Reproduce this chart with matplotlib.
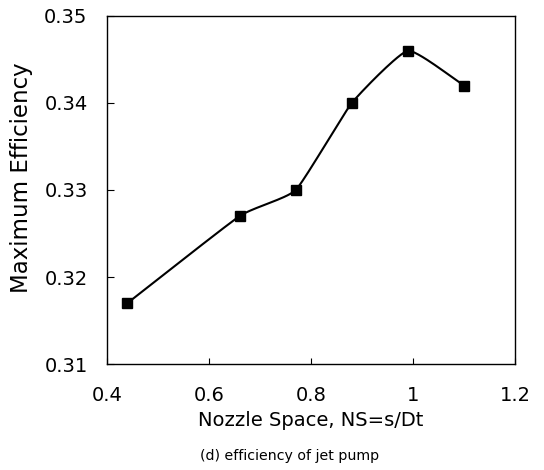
import numpy as np
import matplotlib
matplotlib.use("Agg")
import matplotlib.pyplot as plt

plt.rcParams['font.family'] = ['DejaVu Sans']

# data
nozzle_space = [0.44, 0.66, 0.77, 0.88, 0.99, 1.10]
max_eff = [0.317, 0.327, 0.330, 0.340, 0.346, 0.342]
xticks = [0.4, 0.6, 0.8, 1.0, 1.2]
xtick_labels = ['0.4', '0.6', '0.8', '1', '1.2']
yticks = [0.31, 0.32, 0.33, 0.34, 0.35]


def smooth(x, y, tension=0.55, n=30):
    # cardinal spline through the points (spreadsheet-style smoothed line)
    pts = np.column_stack([x, y]).astype(float)
    pts = np.vstack([2*pts[0]-pts[1], pts, 2*pts[-1]-pts[-2]])
    t = np.linspace(0, 1, n)[:, None]
    h00 = 2*t**3 - 3*t**2 + 1
    h10 = t**3 - 2*t**2 + t
    h01 = -2*t**3 + 3*t**2
    h11 = t**3 - t**2
    out = []
    for i in range(1, len(pts)-2):
        m1 = (1-tension)*(pts[i+1]-pts[i-1])/2
        m2 = (1-tension)*(pts[i+2]-pts[i])/2
        out.append(h00*pts[i] + h10*m1 + h01*pts[i+1] + h11*m2)
    out = np.vstack(out)
    return out[:, 0], out[:, 1]


fig = plt.figure(figsize=(5.44, 4.70), dpi=100)
ax = fig.add_axes([0.1967, 0.2255, 0.75, 0.7405])

sx, sy = smooth(nozzle_space, max_eff)
ax.plot(sx, sy, color='black', lw=1.5)
ax.plot(nozzle_space, max_eff, ls='none', marker='s', ms=7, color='black')

ax.set_xlim(0.4, 1.2)
ax.set_ylim(0.31, 0.35)
ax.set_xticks(xticks)
ax.set_xticklabels(xtick_labels)
ax.set_yticks(yticks)
ax.set_yticklabels(['%.2f' % v for v in yticks])
ax.tick_params(axis='y', direction='in', length=5, width=0.8, pad=14, labelsize=14)
ax.tick_params(axis='x', direction='in', length=4, width=0.8, pad=16, labelsize=14)
for s in ax.spines.values():
    s.set_linewidth(1.0)

ax.set_xlabel('Nozzle Space, NS=s/Dt', fontsize=14, labelpad=4)
fig.text(0.040, 0.623, 'Maximum Efficiency', rotation=90, ha='center', va='center',
         fontsize=16.5)
fig.text(0.533, 0.030, '(d) efficiency of jet pump', ha='center', va='center', fontsize=10.2)

fig.savefig('out.png', dpi=100)
